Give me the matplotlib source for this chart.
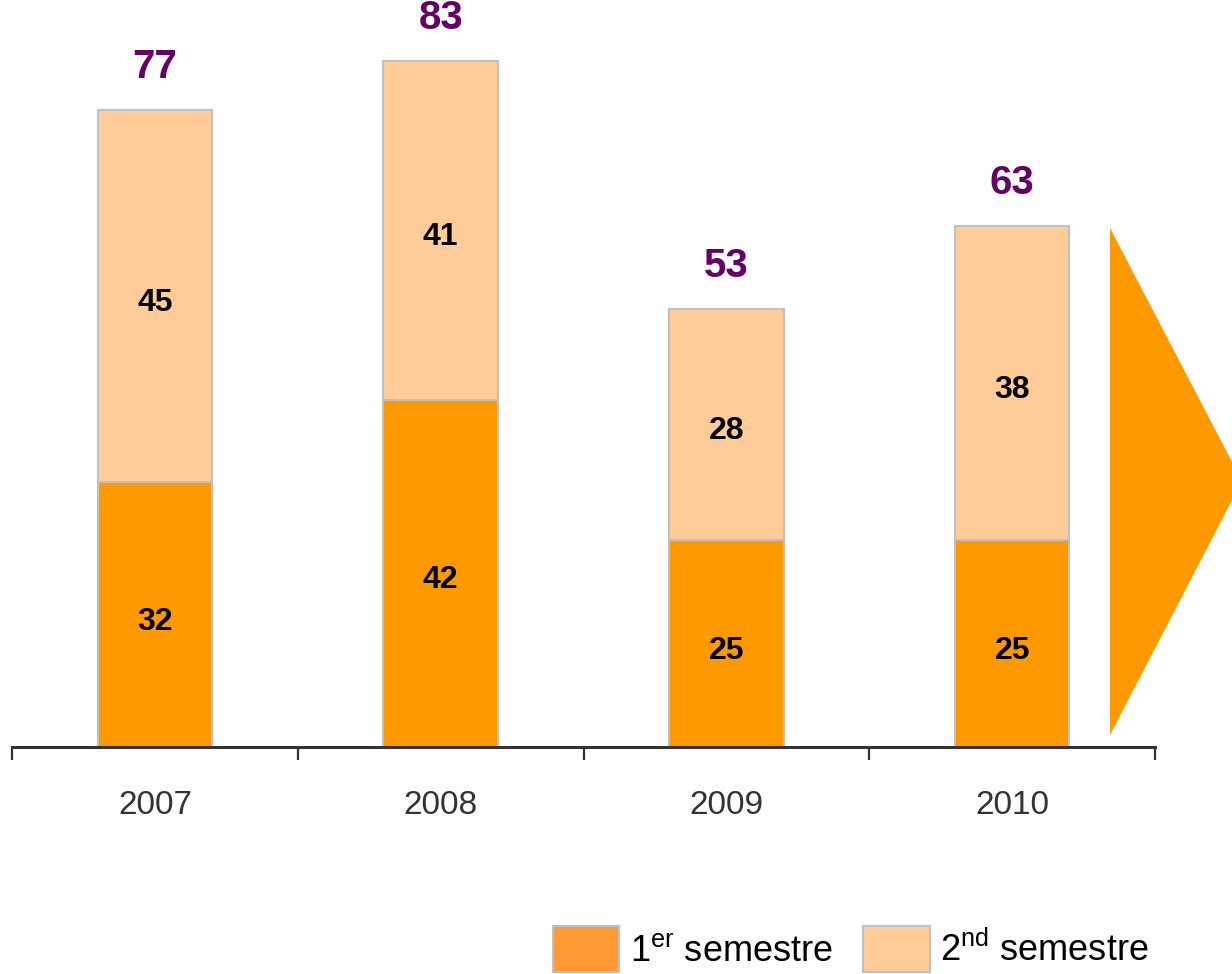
import matplotlib.pyplot as plt
from matplotlib.patches import Polygon

plt.rcParams['font.family'] = ['Liberation Sans', 'DejaVu Sans']
plt.rcParams['mathtext.fontset'] = 'custom'
plt.rcParams['mathtext.rm'] = 'Liberation Sans'

years = ['2007', '2008', '2009', '2010']
first_half = [32, 42, 25, 25]
second_half = [45, 41, 28, 38]
totals = [77, 83, 53, 63]

c_first = '#FF9900'
c_second = '#FFCC99'
c_edge = '#C0C0C0'
c_total = '#660066'
c_axis = '#333333'

W, H = 1232, 974
fig = plt.figure(figsize=(W / 100, H / 100), dpi=100)
ax = fig.add_axes([12 / W, (H - 747) / H, 1143 / W, 747 / H])

x = list(range(len(years)))
ax.bar(x, first_half, width=0.4, color=c_first, edgecolor=c_edge, linewidth=1.5)
ax.bar(x, second_half, width=0.4, bottom=first_half, color=c_second,
       edgecolor=c_edge, linewidth=1.5)

for xi, a, b, t in zip(x, first_half, second_half, totals):
    for yv, val in [(a / 2, a), (a + b / 2, b)]:
        ax.annotate(str(val), (xi, yv), xytext=(0, -5), textcoords='offset points',
                    ha='center', va='center', fontsize=23, fontweight='bold',
                    color='black')
    ax.annotate(str(t), (xi, t), xytext=(0, 31), textcoords='offset points',
                ha='center', va='center', fontsize=29, fontweight='bold',
                color=c_total, annotation_clip=False)

ax.set_xlim(-0.5, len(years) - 0.5)
ax.set_ylim(0, 747 / 8.27)

for s in ['top', 'right', 'left']:
    ax.spines[s].set_visible(False)
ax.spines['bottom'].set_color(c_axis)
ax.spines['bottom'].set_linewidth(2.2)
ax.set_yticks([])

ax.set_xticks(x)
ax.set_xticklabels(years, fontsize=24, color=c_axis)
ax.tick_params(axis='x', which='major', length=0, pad=31)
ax.set_xticks([i - 0.5 for i in range(len(years) + 1)], minor=True)
ax.tick_params(axis='x', which='minor', length=9, width=1.6, color=c_axis,
               direction='out')

# decorative arrow on the right
tri = Polygon([(1110 / W, 1 - 228 / H), (1110 / W, 1 - 735 / H), (1242 / W, 1 - 481 / H)],
              closed=True, transform=fig.transFigure, facecolor=c_first,
              edgecolor='none', clip_on=False)
fig.patches.append(tri)

h1 = plt.Rectangle((0, 0), 1, 1, facecolor='#FF9933', edgecolor=c_edge, linewidth=1.5)
h2 = plt.Rectangle((0, 0), 1, 1, facecolor=c_second, edgecolor=c_edge, linewidth=1.5)
fig.legend([h1, h2], [r'1$^{\mathrm{er}}$ semestre', r'2$^{\mathrm{nd}}$ semestre'],
           loc='lower right', bbox_to_anchor=(1150 / W, 0 / H), ncol=2,
           frameon=False, fontsize=26, handlelength=1.83, handleheight=1.6,
           handletextpad=0.28, columnspacing=0.86, borderpad=0.05, borderaxespad=0)

fig.savefig('out.png', dpi=100)
